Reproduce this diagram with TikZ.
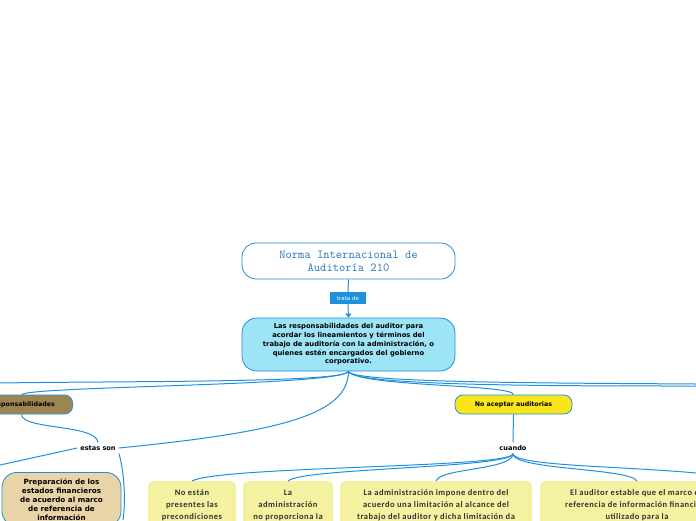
\documentclass[tikz,border=0pt]{standalone}
\usepackage{fontspec}
\setmainfont{DejaVu Sans}
\newfontfamily\boxfont[LetterSpace=6]{Carlito}
\usepackage{tikz}
\usetikzlibrary{positioning,calc,arrows.meta}
\definecolor{linkblue}{RGB}{30, 144, 221}
\definecolor{titleblue}{RGB}{38, 119, 187}
\definecolor{skyfill}{RGB}{158, 228, 247}
\definecolor{sunyellow}{RGB}{249, 229, 28}
\definecolor{mudbrown}{RGB}{156, 133, 81}
\definecolor{tanfill}{RGB}{232, 212, 166}
\definecolor{paleyellow}{RGB}{244, 241, 160}
\definecolor{inkgray}{RGB}{51, 51, 51}

\tikzset{
  link/.style={draw=linkblue, line width=1pt},
  titlebox/.style={draw=linkblue, fill=white, line width=0.8pt, rounded corners=14pt,
    minimum width=213pt, minimum height=36pt, align=center, text=titleblue,
    font=\ttfamily\fontsize{12.2}{13}\selectfont},
  tagbox/.style={fill=linkblue, text=white, minimum width=36pt, minimum height=12pt,
    inner sep=1pt, font=\fontsize{5.5}{6}\selectfont},
  mainbox/.style={draw=linkblue, fill=skyfill, line width=0.8pt, rounded corners=15pt,
    minimum width=213pt, minimum height=53pt, align=center,
    font=\bfseries\fontsize{6.8}{8.8}\selectfont},
  pillbox/.style={draw=linkblue, line width=0.8pt, rounded corners=8pt,
    minimum height=19pt, inner sep=4pt, font=\bfseries\fontsize{6.3}{7}\selectfont},
  plainlabel/.style={inner sep=3pt, font=\bfseries\fontsize{6.6}{7}\selectfont},
  tanbox/.style={draw=linkblue, fill=tanfill, line width=0.8pt, rounded corners=15pt,
    minimum width=119pt, align=center, anchor=north,
    inner xsep=4pt, inner ysep=6pt, font=\bfseries\fontsize{7.2}{9}\selectfont},
  softbox/.style={fill=paleyellow, rounded corners=5pt, anchor=north, align=center,
    inner xsep=5pt, inner ysep=8.5pt, text=inkgray,
    font=\boxfont\bfseries\fontsize{8.5}{12}\selectfont}
}

\begin{document}
\begin{tikzpicture}[x=1pt, y=-1pt]
\useasboundingbox (0,0) rectangle (696,520);
\clip (0,0) rectangle (696,520);

% central topic
\node[titlebox] (norma) at (348.5,261) {Norma Internacional de\\Auditoría 210};
\node[tagbox] (trata) at (348,298) {trata de};
\node[mainbox] (resp) at (348.5,344.5) {Las responsabilidades del auditor para\\acordar los lineamientos y términos del\\trabajo de auditoría con la administración, o\\quienes estén encargados del gobierno\\corporativo.};

% free ends beyond the page
\coordinate (outL1) at (0,383);
\coordinate (outR1) at (696,384);
\coordinate (outR2) at (696,386);
\coordinate (outL2) at (0,465);
\coordinate (outB) at (123,520);
\coordinate (outR3) at (696,473);

% branches
\node[pillbox, fill=mudbrown, minimum width=102pt, anchor=east] (respon) at (73,404.5) {Responsabilidades};
\node[pillbox, fill=sunyellow, minimum width=117pt] (noacept) at (513.5,404.5) {No aceptar auditorias};
\node[plainlabel] (estas) at (98,448) {estas son};
\node[plainlabel] (cuando) at (513,448) {cuando};

\node[tanbox] (prep) at (61.5,472) {Preparación de los\\estados financieros\\de acuerdo al marco\\de referencia de\\información};

\node[softbox, minimum width=88pt] (precond) at (192,481) {No están\\presentes las\\precondiciones};
\node[softbox, minimum width=90pt] (noprop) at (288,481) {La\\administración\\no proporciona la};
\node[softbox, minimum width=192pt] (limita) at (436,481) {La administración impone dentro del\\acuerdo una limitación al alcance del\\trabajo del auditor y dicha limitación da};
\node[softbox, minimum width=194pt] (marco) at (637,481) {El auditor estable que el marco de\\referencia de información financiera\\utilizado para la};

% connectors
\draw[link] (norma.south) -- (trata.north);
\draw[link, -{Triangle[width=6pt,length=4pt]}] (trata.south) -- (resp.north);

\draw[link] (resp.south) .. controls (345,383) and (120,381) .. (outL1);
\draw[link] (resp.south) .. controls (340,386) and (30,386) .. (respon.north);
\draw[link] (resp.south) .. controls (350,383) and (560,383) .. (outR1);
\draw[link] (resp.south) .. controls (352,386) and (560,386) .. (outR2);
\draw[link] (resp.south) .. controls (360,387) and (513,384) .. (noacept.north);
\draw[link] (resp.south) .. controls (348,415) and (280,432) .. (estas.east);

\draw[link] (respon.south) .. controls (22,430) and (96,424) .. (estas.north);
\draw[link] (estas.west) -- (outL2);
\draw[link] (estas.south east) .. controls (124,470) and (126,500) .. (outB);

\draw[link] (noacept.south) -- (cuando.north);
\draw[link] (cuando.south) .. controls (513,468) and (220,466) .. (precond.north);
\draw[link] (cuando.south) .. controls (513,468) and (300,468) .. (noprop.north);
\draw[link] (cuando.south) .. controls (513,470) and (440,468) .. (limita.north);
\draw[link] (cuando.south) .. controls (513,470) and (630,468) .. (marco.north);
\draw[link] (cuando.south) .. controls (515,466) and (620,466) .. (outR3);
\end{tikzpicture}
\end{document}
